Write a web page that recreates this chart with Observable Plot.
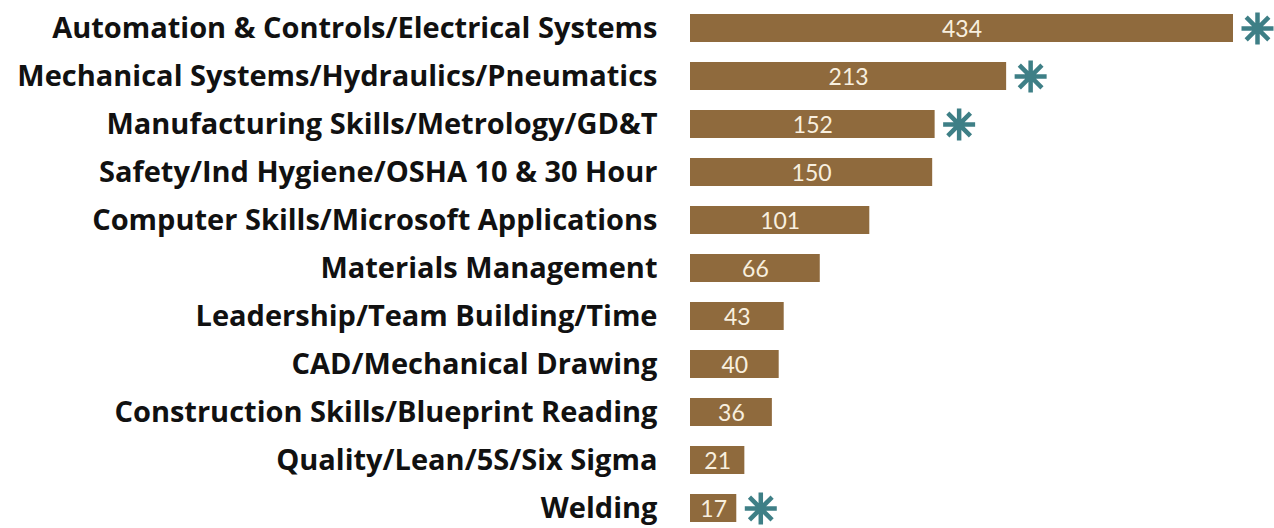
<!DOCTYPE html>
<html>
<head>
<meta charset="utf-8">
<script src="https://cdn.jsdelivr.net/npm/d3@7"></script>
<script src="https://cdn.jsdelivr.net/npm/@observablehq/plot@0.6"></script>
<style>
  html, body { margin: 0; padding: 0; background: #fff; }
  #chart svg { display: block; }
</style>
</head>
<body>
<div id="chart"></div>
<script>
const categories = [
  "Automation & Controls/Electrical Systems",
  "Mechanical Systems/Hydraulics/Pneumatics",
  "Manufacturing Skills/Metrology/GD&T",
  "Safety/Ind Hygiene/OSHA 10 & 30 Hour",
  "Computer Skills/Microsoft Applications",
  "Materials Management",
  "Leadership/Team Building/Time",
  "CAD/Mechanical Drawing",
  "Construction Skills/Blueprint Reading",
  "Quality/Lean/5S/Six Sigma",
  "Welding"
];
const values = [434, 213, 152, 150, 101, 66, 43, 40, 36, 21, 17];
const starred = [true, true, true, false, false, false, false, false, false, false, true];

const data = categories.map((c, i) => ({category: c, value: values[i], star: starred[i]}));
const exponent = 0.76;

const asterisk = {
  draw(context, size) {
    const r = Math.sqrt(size / Math.PI);
    for (let k = 0; k < 4; ++k) {
      const a = k * Math.PI / 4;
      context.moveTo(r * Math.cos(a), r * Math.sin(a));
      context.lineTo(-r * Math.cos(a), -r * Math.sin(a));
    }
  }
};

const chart = Plot.plot({
  width: 1274,
  height: 528,
  marginLeft: 690,
  marginRight: 41,
  marginTop: 9,
  marginBottom: 0,
  style: {fontFamily: "'Open Sans', 'Noto Sans', sans-serif", background: "#fff"},
  x: {type: "pow", exponent, domain: [0, 434], axis: null},
  y: {domain: categories, paddingInner: 0.41, paddingOuter: 0.05, axis: null},
  marks: [
    Plot.barX(data, {y: "category", x: "value", fill: "#8f6a3d"}),
    Plot.text(data, {
      y: "category",
      x: d => d.value * Math.pow(0.5, 1 / exponent),
      text: d => String(d.value),
      fill: "#f8efdf",
      fontSize: 23,
      fontWeight: 400,
      fontFamily: "Lato, 'Open Sans', sans-serif",
      textAnchor: "middle",
      dy: 1
    }),
    Plot.dot(data.filter(d => d.star), {
      y: "category",
      x: "value",
      dx: 24,
      symbol: asterisk,
      r: 16,
      fill: "none",
      stroke: "#3e7f86",
      strokeWidth: 4.5
    }),
    Plot.axisY({
      tickSize: 0,
      tickPadding: 33,
      fontSize: 29,
      fontWeight: "bold",
      fill: "#111",
      label: null
    })
  ]
});
document.getElementById("chart").appendChild(chart);
</script>
</body>
</html>
